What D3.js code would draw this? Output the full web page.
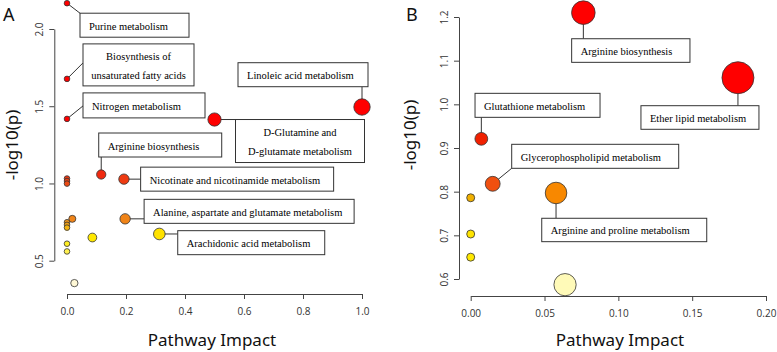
<!DOCTYPE html>
<html><head><meta charset="utf-8">
<script src="https://cdn.jsdelivr.net/npm/d3@7"></script>
<style>body{margin:0;background:#fff} svg{display:block}</style>
</head><body><svg id="c" width="777" height="352"></svg>
<script>
// ---------- Panel A data ----------
const aImpact = [0, 0, 0, 1.0, 0.50, 0.116, 0.193, 0.197, 0.313, 0, 0, 0, 0.018, 0, 0, 0, 0.086, 0, 0, 0.025];
const aLogP   = [2.167, 1.677, 1.418, 1.495, 1.414, 1.058, 1.028, 0.771, 0.673, 1.032, 1.016, 0.999, 0.771, 0.749, 0.732, 0.714, 0.650, 0.610, 0.560, 0.355];
const aLabels = [["Purine metabolism"], ["Biosynthesis of", "unsaturated fatty acids"], ["Nitrogen metabolism"],
  ["Linoleic acid metabolism"], ["D-Glutamine and", "D-glutamate metabolism"], ["Arginine biosynthesis"],
  ["Nicotinate and nicotinamide metabolism"], ["Alanine, aspartate and glutamate metabolism"], ["Arachidonic acid metabolism"]];
const aXTicks = [0, 0.2, 0.4, 0.6, 0.8, 1.0];
const aYTicks = [0.5, 1.0, 1.5, 2.0];

// ---------- Panel B data ----------
const bImpact = [0.0763, 0.181, 0.0072, 0.0149, 0.0578, 0, 0, 0, 0.0639];
const bLogP   = [1.21, 1.061, 0.921, 0.818, 0.797, 0.786, 0.703, 0.650, 0.587];
const bLabels = [["Arginine biosynthesis"], ["Ether lipid metabolism"], ["Glutathione metabolism"],
  ["Glycerophospholipid metabolism"], ["Arginine and proline metabolism"]];
const bXTicks = [0, 0.05, 0.10, 0.15, 0.20];
const bYTicks = [0.6, 0.7, 0.8, 0.9, 1.0, 1.1, 1.2];

// ---------- layout (label boxes: dx, dy, w, h, anchorX, anchorY relative to point, px) ----------
const aBoxes = [[13,10,109,24,13,10],[16,-35,111,42,16,-16],[16,-26,122,25,16,-13],[-124,-44.3,130,24,0,-20.3],
  [21,0,129,43,21,0],[-2.5,-41.5,123,24,0,-17.5],[16.7,-12,193,24,16.7,0],[19,-19.5,210,24,19,0],[18.4,-3.3,147,24,18.4,0]];
const bBoxes = [[-11.7,26.1,118.3,23.6,0,26.1],[-97,28,118,23.6,0,28],[-6.3,-45.5,125,24,0,-21.5],
  [19,-39.5,167,24,19,-15.5],[-14.3,25.3,165,23.4,0,25.3]];

const svg = d3.select("#c");

function panel(cfg) {
  const g = svg.append("g");
  const x = d3.scaleLinear().domain(cfg.xDom).range(cfg.xRange);
  const y = d3.scaleLinear().domain(cfg.yDom).range(cfg.yRange);
  const r = d3.scaleSqrt().domain([0, cfg.rMax]).range(cfg.rRange);
  const col = d3.scaleLinear().domain(cfg.colDom).range(cfg.colRange).clamp(true);

  // axes
  const xa = g.append("g").attr("transform", `translate(0,${cfg.xAxisY})`)
    .call(d3.axisBottom(x).tickValues(cfg.xTicks).tickSize(5).tickSizeOuter(0).tickPadding(9).tickFormat(cfg.xFmt));
  const ya = g.append("g").attr("transform", `translate(${cfg.yAxisX},0)`)
    .call(d3.axisLeft(y).tickValues(cfg.yTicks).tickSize(5).tickSizeOuter(0).tickFormat(cfg.yFmt));
  [xa, ya].forEach(a => {
    a.select(".domain").attr("stroke", "#444");
    a.selectAll(".tick line").attr("stroke", "#444");
    a.selectAll("text").attr("fill", "#333").style("font-family", "'Open Sans', sans-serif").style("font-size", "10px");
  });
  ya.selectAll(".tick text").attr("x", 0).attr("y", -15).attr("dy", null)
    .attr("dominant-baseline", "central").attr("text-anchor", "middle").attr("transform", "rotate(-90)");

  // axis titles
  g.append("text").attr("x", cfg.xTitleX).attr("y", 345.5).attr("text-anchor", "middle")
    .style("font-family", "'Noto Sans', 'Open Sans', sans-serif").style("font-size", "17px").attr("fill", "#111")
    .text("Pathway Impact");
  g.append("text").attr("transform", `translate(${cfg.yTitleX},${cfg.yTitleY}) rotate(-90)`).attr("text-anchor", "middle")
    .style("font-family", "'Noto Sans', 'Open Sans', sans-serif").style("font-size", "17px").attr("fill", "#111")
    .text("-log10(p)");
  g.append("text").attr("x", cfg.letterX).attr("y", 21).style("font-family", "'Noto Sans', sans-serif")
    .style("font-size", "18px").attr("fill", "#111").text(cfg.letter);

  const pts = cfg.impact.map((v, i) => ({i, px: x(v), py: y(cfg.logp[i]), r: r(v), c: col(cfg.logp[i])}));

  // connectors
  const labs = cfg.labels.map((lines, i) => ({lines, p: pts[i], b: cfg.boxes[i]}));
  g.selectAll("line.conn").data(labs).join("line").attr("class", "conn")
    .attr("x1", d => d.p.px).attr("y1", d => d.p.py)
    .attr("x2", d => d.p.px + d.b[4]).attr("y2", d => d.p.py + d.b[5])
    .attr("stroke", "#333").attr("stroke-width", 1);

  // boxes
  const bg = g.selectAll("g.lab").data(labs).join("g").attr("class", "lab")
    .attr("transform", d => `translate(${d.p.px + d.b[0]},${d.p.py + d.b[1]})`);
  bg.append("rect").attr("width", d => d.b[2]).attr("height", d => d.b[3])
    .attr("fill", "#fff").attr("stroke", "#333").attr("stroke-width", 1);
  bg.each(function(d) {
    const n = d.lines.length;
    d.lines.forEach((ln, k) => {
      const t = d3.select(this).append("text").attr("font-family", "Liberation Serif")
        .attr("font-size", 10.5).attr("fill", "#000").attr("dominant-baseline", "central").text(ln);
      if (n === 1) { t.attr("x", 9).attr("y", d.b[3] / 2 + 1); }
      else { t.attr("x", d.b[2] / 2).attr("text-anchor", "middle").attr("y", d.b[3] / 2 + 1 + (k - (n - 1) / 2) * 18.4); }
    });
  });

  // points (draw small ones on top)
  g.selectAll("circle.pt").data(pts.slice().sort((a, b) => b.r - a.r)).join("circle").attr("class", "pt")
    .attr("cx", d => d.px).attr("cy", d => d.py).attr("r", d => d.r)
    .attr("fill", d => d.c).attr("stroke", "#333").attr("stroke-width", 0.8);
}

panel({
  letter: "A", letterX: 3,
  impact: aImpact, logp: aLogP, labels: aLabels, boxes: aBoxes,
  xDom: [0, 1], xRange: [67, 362], yDom: [0.5, 2.0], yRange: [260.7, 29],
  xTicks: aXTicks, yTicks: aYTicks, xFmt: d3.format(".1f"), yFmt: d3.format(".1f"),
  xAxisY: 294, yAxisX: 54.3, xTitleX: 212, yTitleX: 18, yTitleY: 145,
  rMax: 1, rRange: [2.8, 8.2],
  colDom: [0.355, 0.56, 0.61, 0.65, 0.673, 0.73, 0.771, 1.0, 1.058, 1.4],
  colRange: ["#FFF8D6", "#FFF050", "#FFEE22", "#FFE800", "#FFE200", "#EDA018", "#F08418", "#EC4A14", "#F02A10", "#FF0000"]
});
panel({
  letter: "B", letterX: 406,
  impact: bImpact, logp: bLogP, labels: bLabels, boxes: bBoxes,
  xDom: [0, 0.2], xRange: [470.7, 766], yDom: [0.6, 1.2], yRange: [279, 17],
  xTicks: bXTicks, yTicks: bYTicks, xFmt: d3.format(".2f"), yFmt: d3.format(".1f"),
  xAxisY: 296, yAxisX: 459, xTitleX: 620, yTitleX: 416, yTitleY: 135,
  rMax: 0.181, rRange: [4, 16],
  colDom: [0.587, 0.65, 0.703, 0.786, 0.797, 0.818, 0.921, 1.06],
  colRange: ["#FFFAB8", "#FFE800", "#FFE400", "#F0B000", "#F88800", "#F05010", "#F02000", "#FF0000"]
});
</script></body></html>
